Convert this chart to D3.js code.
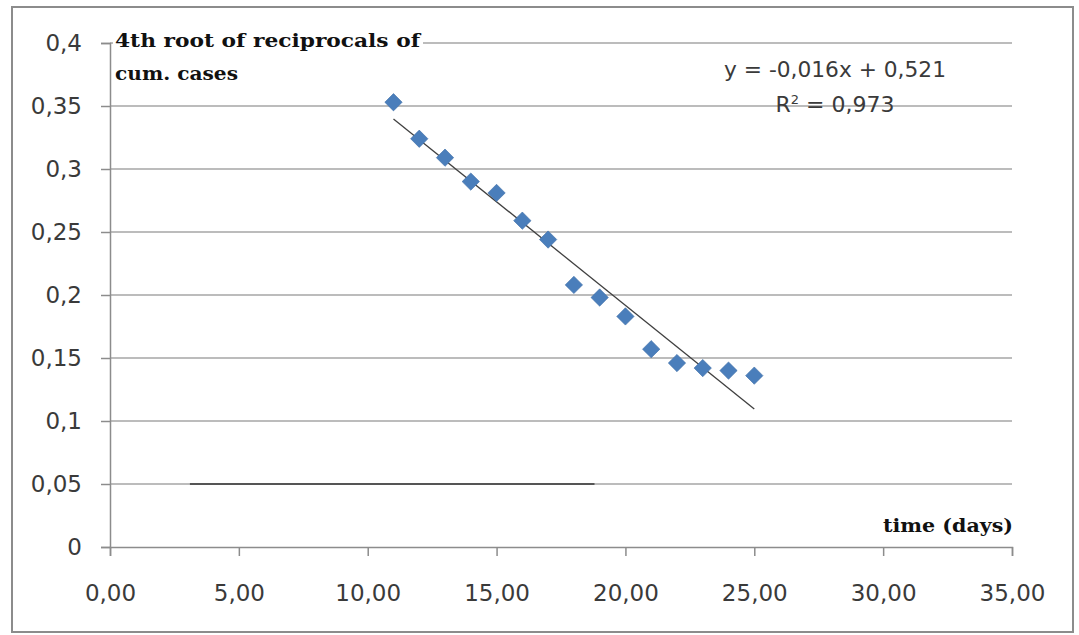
<!DOCTYPE html>
<html>
<head>
<meta charset="utf-8">
<script src="https://cdn.jsdelivr.net/npm/d3@7"></script>
<style>
  html, body { margin: 0; padding: 0; background: #fff; }
  svg { display: block; }
</style>
</head>
<body>
<svg id="chart" width="1079" height="635"></svg>
<script>
// ---- data ----
const days = [11, 12, 13, 14, 15, 16, 17, 18, 19, 20, 21, 22, 23, 24, 25];
const rootValues = [0.353, 0.324, 0.309, 0.290, 0.281, 0.259, 0.244, 0.208, 0.198, 0.183, 0.157, 0.146, 0.142, 0.140, 0.136];
const xTickValues = [0, 5, 10, 15, 20, 25, 30, 35];
const yTickValues = [0, 0.05, 0.1, 0.15, 0.2, 0.25, 0.3, 0.35, 0.4];
const yTickLabels = ["0", "0,05", "0,1", "0,15", "0,2", "0,25", "0,3", "0,35", "0,4"];
const darkSegmentX = [3.1, 18.8];
const darkSegmentY = 0.05;
const titleLines = ["4th root of reciprocals of", "cum. cases"];
const xTitle = "time (days)";
const equationText = "y = -0,016x + 0,521";

// ---- layout ----
const svg = d3.select("#chart");
const x = d3.scaleLinear().domain([0, 35]).range([110, 1012]);
const y = d3.scaleLinear().domain([0, 0.4]).range([547, 43]);

// outer frame
svg.append("rect").attr("x", 12).attr("y", 7).attr("width", 1061).attr("height", 625)
  .attr("fill", "#fff").attr("stroke", "#8c8c8c").attr("stroke-width", 2);

// gridlines
svg.append("g").selectAll("line").data(yTickValues.filter(v => v > 0)).join("line")
  .attr("x1", x(0)).attr("x2", x(35))
  .attr("y1", d => y(d)).attr("y2", d => y(d))
  .attr("stroke", "#a6a6a6").attr("stroke-width", 1.5);

// dark segment over 0.05 gridline
svg.append("line")
  .attr("x1", x(darkSegmentX[0])).attr("x2", x(darkSegmentX[1]))
  .attr("y1", y(darkSegmentY)).attr("y2", y(darkSegmentY))
  .attr("stroke", "#555").attr("stroke-width", 1.8);

// y axis
const yAxis = d3.axisLeft(y).tickValues(yTickValues)
  .tickFormat((d, i) => yTickLabels[i]).tickSize(9).tickPadding(19);
const gy = svg.append("g").attr("transform", `translate(${x(0)},0)`).call(yAxis);
gy.select(".domain").attr("stroke", "#8c8c8c").attr("stroke-width", 1.5);
gy.selectAll(".tick line").attr("stroke", "#8c8c8c").attr("stroke-width", 1.5);
gy.selectAll(".tick text").attr("font-family", "DejaVu Sans").attr("font-size", 23)
  .attr("fill", "#3a3a3a");

// x axis
const xAxis = d3.axisBottom(x).tickValues(xTickValues)
  .tickFormat(d => d3.format(".2f")(d).replace(".", ",")).tickSize(9).tickPadding(29);
const gx = svg.append("g").attr("transform", `translate(0,${y(0)})`).call(xAxis);
gx.select(".domain").attr("stroke", "#8c8c8c").attr("stroke-width", 1.5);
gx.selectAll(".tick line").attr("stroke", "#8c8c8c").attr("stroke-width", 1.5);
gx.selectAll(".tick text").attr("font-family", "DejaVu Sans").attr("font-size", 23)
  .attr("fill", "#3a3a3a");

// title box (white) with bold serif text
svg.append("rect").attr("x", x(0) + 3).attr("y", 28).attr("width", 310).attr("height", 60)
  .attr("fill", "#fff");
const titleWidths = [305, 123];
const titleBaselines = [47, 80];
svg.append("g").selectAll("text").data(titleLines).join("text")
  .attr("x", 115).attr("y", (d, i) => titleBaselines[i])
  .attr("font-family", "DejaVu Serif").attr("font-weight", "bold").attr("font-size", 18)
  .attr("fill", "#111")
  .attr("textLength", (d, i) => titleWidths[i]).attr("lengthAdjust", "spacingAndGlyphs")
  .text(d => d);

// x title
svg.append("text").attr("x", 883).attr("y", 532)
  .attr("font-family", "DejaVu Serif").attr("font-weight", "bold").attr("font-size", 18)
  .attr("fill", "#111").attr("textLength", 130).attr("lengthAdjust", "spacingAndGlyphs")
  .text(xTitle);

// linear regression trend line
const mx = d3.mean(days), my = d3.mean(rootValues);
const sxy = d3.sum(days, (d, i) => (d - mx) * (rootValues[i] - my));
const sxx = d3.sum(days, d => (d - mx) * (d - mx));
const slope = sxy / sxx, intercept = my - slope * mx;
const r2 = Math.pow(sxy, 2) / (sxx * d3.sum(rootValues, v => (v - my) * (v - my)));
const xMin = d3.min(days), xMax = d3.max(days);
svg.append("line")
  .attr("x1", x(xMin)).attr("y1", y(intercept + slope * xMin))
  .attr("x2", x(xMax)).attr("y2", y(intercept + slope * xMax))
  .attr("stroke", "#404040").attr("stroke-width", 1.3);

// diamonds
const sym = d3.symbol().type(d3.symbolSquare).size(150);
svg.append("g").selectAll("path").data(days).join("path")
  .attr("d", sym)
  .attr("transform", (d, i) => `translate(${x(d)},${y(rootValues[i])}) rotate(45)`)
  .attr("fill", "#4a7ebb").attr("stroke", "#3f6fa8").attr("stroke-width", 0.6);

// equation & R²
svg.append("text").attr("x", 835).attr("y", 77).attr("text-anchor", "middle")
  .attr("font-family", "DejaVu Sans").attr("font-size", 22).attr("fill", "#3a3a3a")
  .attr("textLength", 222).attr("lengthAdjust", "spacingAndGlyphs")
  .text(equationText);
const r2Text = svg.append("text").attr("x", 835).attr("y", 112).attr("text-anchor", "middle")
  .attr("font-family", "DejaVu Sans").attr("font-size", 22).attr("fill", "#3a3a3a");
r2Text.append("tspan").text("R");
r2Text.append("tspan").attr("dy", -8).attr("font-size", 13).text("2");
r2Text.append("tspan").attr("dy", 8).text(" = " + d3.format(".3f")(r2).replace(".", ","));
</script>
</body>
</html>
